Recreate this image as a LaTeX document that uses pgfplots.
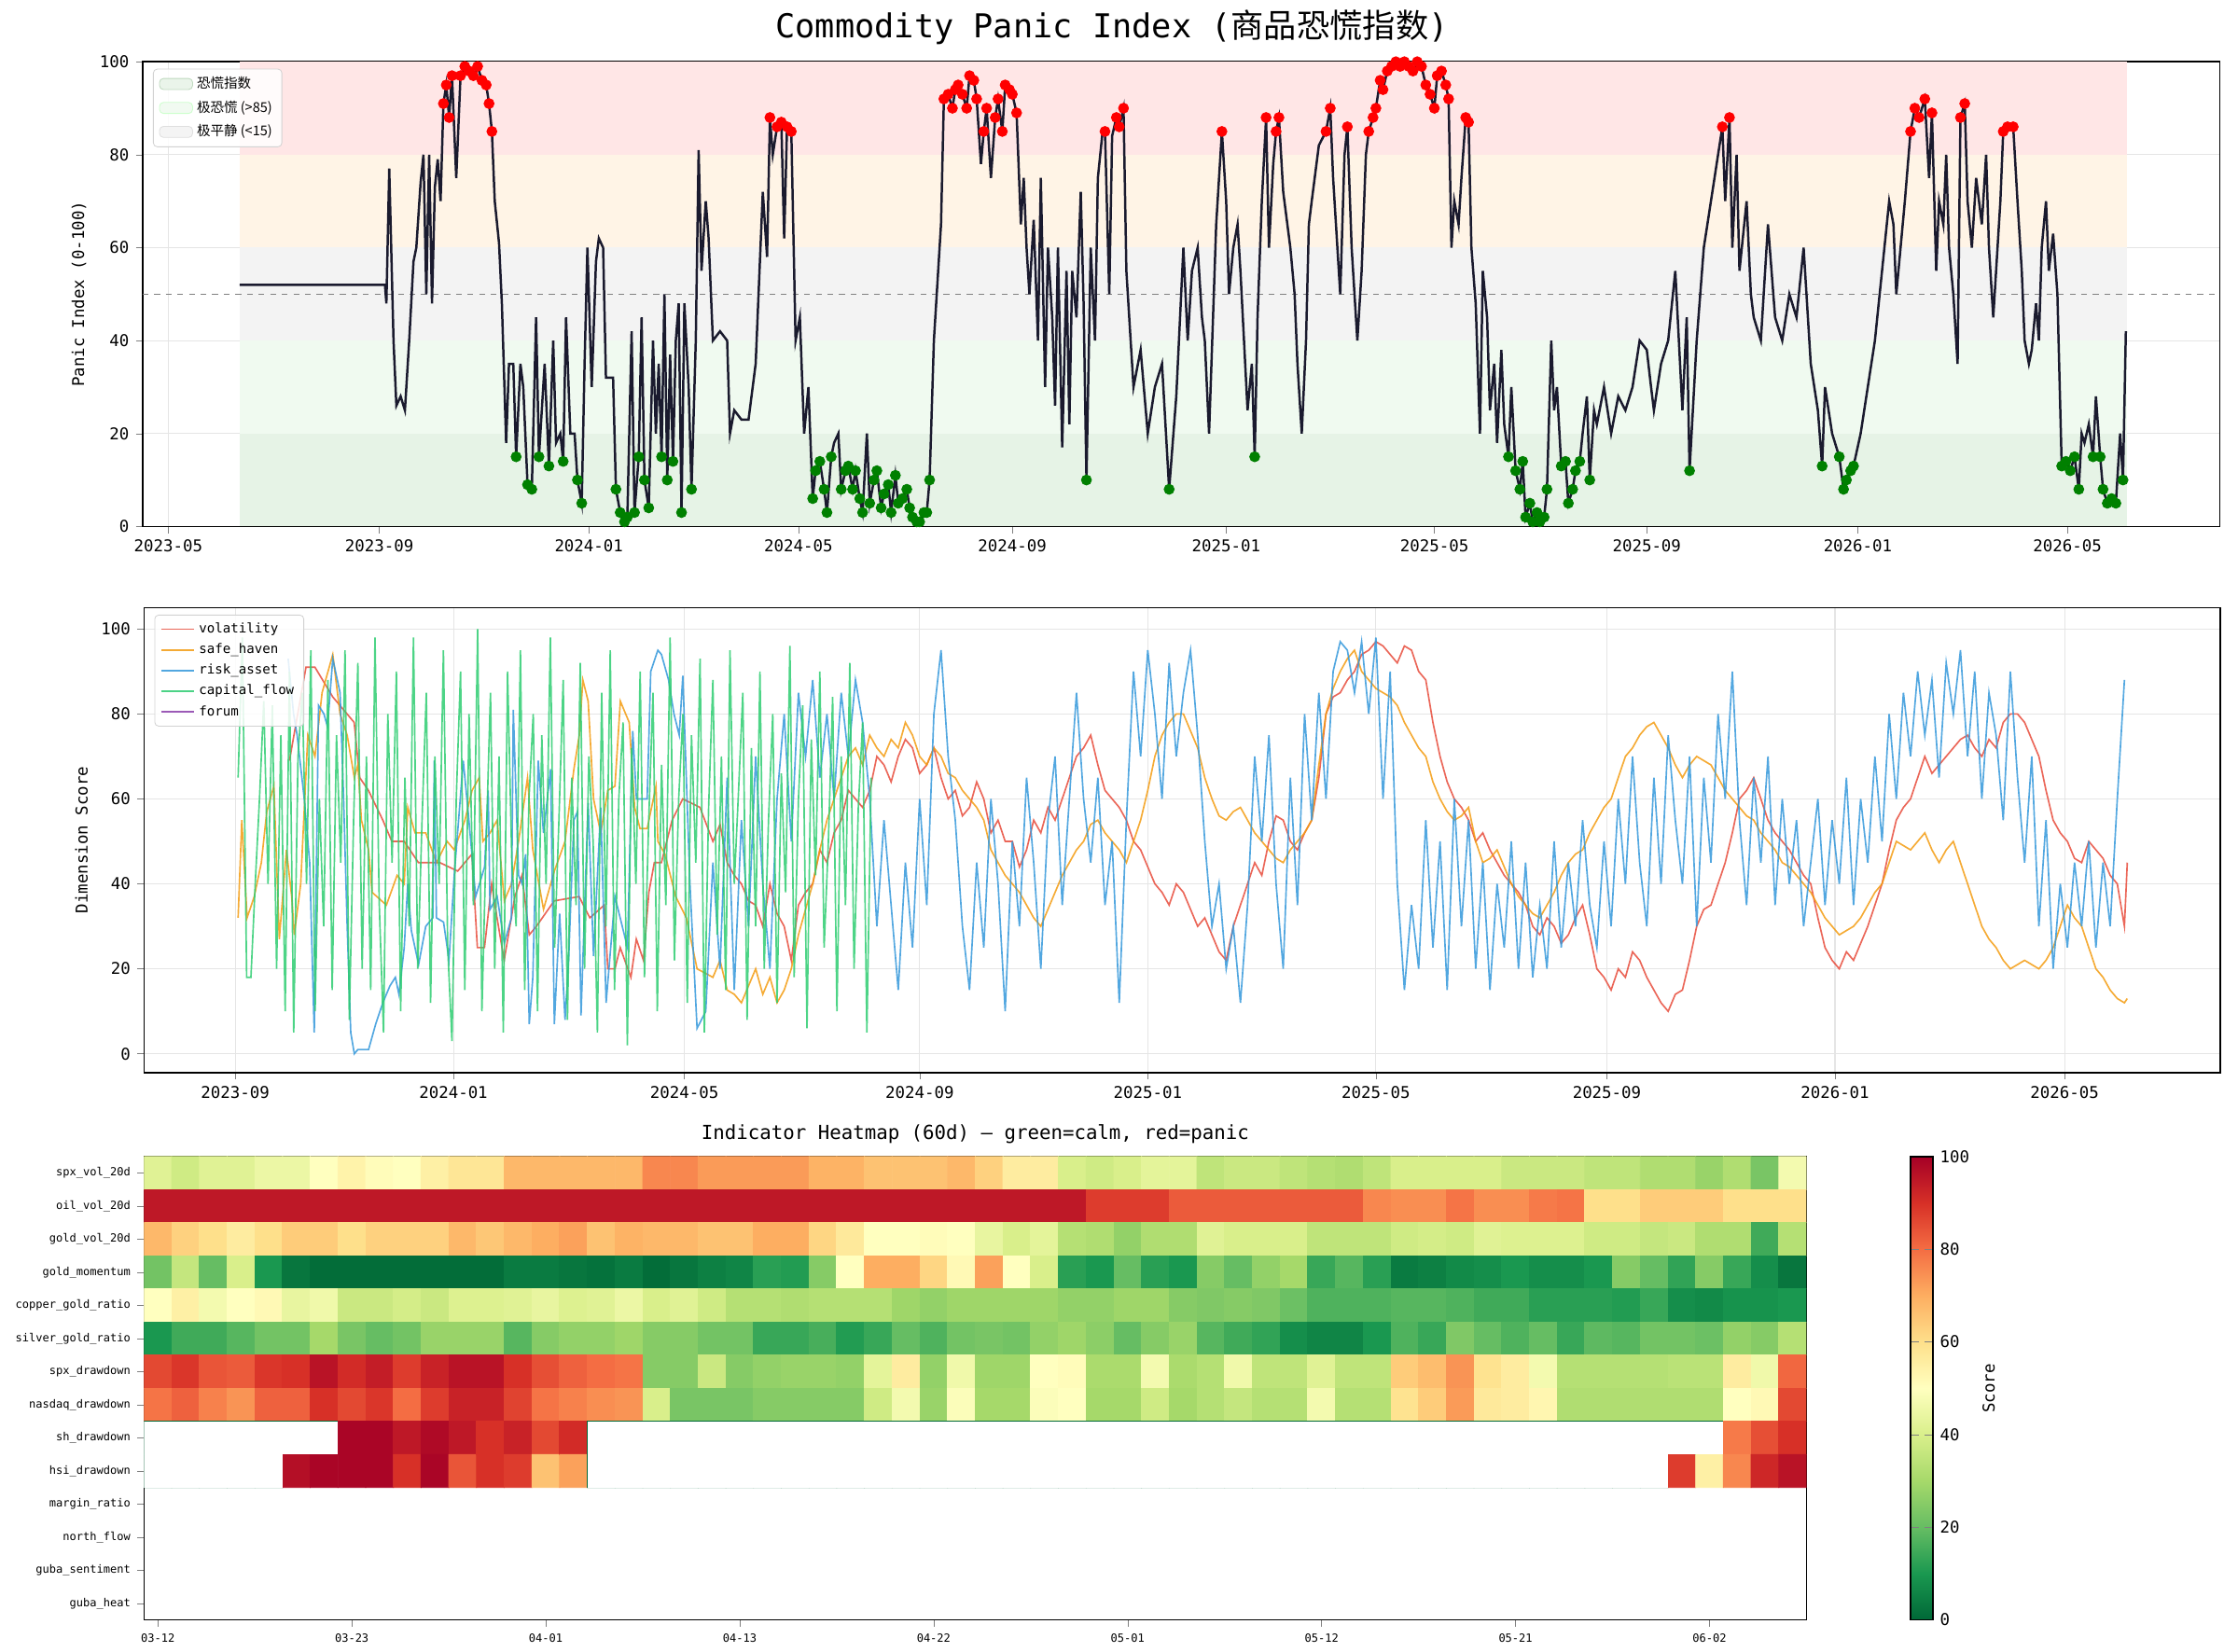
\documentclass[border=0pt]{standalone}
\usepackage{pgfplots}
\pgfplotsset{compat=1.18}
\usepackage{pgfplotstable}
\usepackage{fontspec}
\setmainfont{DejaVu Sans Mono}
\newfontfamily\cjk{Noto Sans CJK SC}
\definecolor{navy}{HTML}{1A1A2E}
\definecolor{cvol}{HTML}{E74C3C}
\definecolor{csafe}{HTML}{F39C12}
\definecolor{crisk}{HTML}{3498DB}
\definecolor{cflow}{HTML}{2ECC71}
\definecolor{cforum}{HTML}{9B59B6}
\definecolor{bred}{HTML}{FFE6E6}
\definecolor{bora}{HTML}{FFF4E6}
\definecolor{bgray}{HTML}{F3F3F3}
\definecolor{bgl}{HTML}{F0FAF0}
\definecolor{bg}{HTML}{E6F3E6}
\pgfplotsset{colormap={rdylgnr}{rgb255(0)=(0,104,55) rgb255(1)=(26,152,80) rgb255(2)=(102,189,99) rgb255(3)=(166,217,106) rgb255(4)=(217,239,139) rgb255(5)=(255,255,191) rgb255(6)=(254,224,139) rgb255(7)=(253,174,97) rgb255(8)=(244,109,67) rgb255(9)=(215,48,39) rgb255(10)=(165,0,38)}}
\pgfplotsset{
  base/.style={scale only axis, anchor=south west, tick align=outside, xtick pos=bottom, ytick pos=left,
    axis line style={line width=0.8pt}, major tick length=3.5pt,
    tick label style={font=\fontsize{8.4}{10}\selectfont},
    label style={font=\fontsize{8.4}{10}\selectfont},
    /pgf/number format/assume math mode=true},
}
\pgfplotstableread{
x y
168 52
270 52
271 48
273 77
276 40
278 26
281 28
284 25
287 40
290 57
292 60
295 74
297 80
299 50
301 80
303 48
305 73
307 79
309 70
311 91
313 95
315 88
317 97
320 75
323 97
326 99
329 98
332 97
335 99
338 96
341 95
343 91
345 85
347 70
350 61
352 48
355 18
357 35
360 35
362 15
365 35
367 30
370 9
373 8
376 45
378 15
382 35
385 13
388 40
390 18
393 20
395 14
397 45
400 20
403 20
405 10
408 5
410 35
412 60
415 30
418 57
420 62
423 60
425 32
430 32
432 8
435 3
438 1
440 2
443 42
445 3
448 15
450 45
452 10
455 4
458 40
460 20
462 35
464 15
466 50
468 10
470 37
472 14
474 40
476 48
478 3
480 48
483 30
485 8
488 40
490 81
492 55
495 70
497 62
500 40
505 42
510 40
512 20
515 25
520 23
525 23
530 35
535 72
538 58
540 88
542 80
545 86
548 87
550 62
552 86
555 85
558 40
561 45
564 20
567 30
570 6
572 12
575 14
578 8
580 3
583 15
585 18
588 20
590 8
593 12
595 13
598 8
600 12
603 6
605 3
608 20
610 5
613 10
615 12
618 4
620 7
623 9
625 3
628 11
630 5
633 6
636 8
638 4
640 2
643 1
645 1
648 3
650 3
652 10
655 40
657 50
660 65
662 92
665 93
668 90
670 94
672 95
675 93
678 90
680 97
683 96
685 92
688 78
690 85
692 90
695 75
698 88
700 92
703 85
705 95
708 94
710 93
713 89
716 65
718 75
720 60
722 50
725 66
728 40
730 75
733 30
735 60
738 45
740 26
742 60
745 17
748 55
750 22
752 55
755 45
758 72
760 48
762 10
765 60
768 40
770 75
773 84
775 85
778 50
780 84
783 88
785 86
788 90
790 55
793 40
795 30
800 38
805 20
810 30
815 35
820 8
825 28
830 60
833 40
836 55
840 60
843 45
845 40
848 20
850 38
853 65
857 85
860 70
862 50
865 60
868 65
870 55
875 25
878 35
880 15
882 45
885 70
888 88
890 60
893 78
895 85
897 88
900 72
905 60
908 50
910 35
913 20
916 40
918 65
920 70
925 82
930 85
933 90
935 75
940 50
943 80
945 86
948 60
950 50
952 40
955 55
958 80
960 85
963 88
965 90
968 96
970 94
973 98
976 99
979 100
982 99
985 100
988 99
991 98
994 100
997 99
1000 95
1003 93
1006 90
1008 97
1011 98
1014 95
1016 92
1018 60
1020 70
1023 65
1025 75
1028 88
1030 87
1032 60
1035 48
1038 20
1040 55
1043 45
1045 25
1048 35
1050 18
1053 38
1055 22
1058 15
1060 30
1063 12
1066 8
1068 14
1070 2
1073 5
1075 1
1078 3
1080 1
1083 2
1085 8
1088 40
1090 25
1092 30
1095 13
1098 14
1100 5
1103 8
1105 12
1108 14
1110 20
1113 28
1115 10
1118 25
1120 22
1125 30
1130 20
1135 28
1140 25
1145 30
1150 40
1155 38
1158 30
1160 25
1165 35
1170 40
1175 55
1180 25
1183 45
1185 12
1190 40
1195 60
1200 70
1205 80
1208 86
1210 70
1213 88
1215 60
1218 80
1220 55
1225 70
1228 50
1230 45
1235 40
1240 65
1245 45
1250 40
1255 50
1260 45
1265 60
1270 35
1275 25
1278 13
1280 30
1285 20
1290 15
1293 8
1295 10
1298 12
1300 13
1305 20
1310 30
1315 40
1320 55
1325 70
1328 65
1330 50
1333 60
1336 70
1340 85
1343 90
1346 88
1350 92
1353 75
1355 89
1358 55
1360 70
1363 65
1365 80
1367 60
1370 50
1373 35
1375 88
1378 91
1380 70
1383 60
1386 75
1390 65
1393 80
1395 60
1398 45
1400 55
1403 70
1405 85
1408 86
1412 86
1415 70
1418 55
1420 40
1423 35
1425 38
1428 48
1430 40
1432 60
1435 70
1437 55
1440 63
1443 50
1446 13
1449 14
1452 12
1455 15
1458 8
1460 20
1462 18
1465 22
1468 15
1470 28
1473 15
1475 8
1478 5
1481 6
1484 5
1487 20
1489 10
1491 42
}\panic
\pgfplotstableread{
x y
203 69
214.6 91
220.9 91
233.4 84
243.4 80
248.4 78
252.3 65
258.4 62
268.5 55
274.8 50
283.5 50
293.5 45
308.5 45
321 43
331 47
334.8 25
339.8 25
344.8 40
348.6 32
353.6 22
361.1 37
366.1 42
371.2 28
376.2 30
388.7 36
406.2 37
413.7 32
423.8 35
426.3 20
431.3 20
435 25
442.5 18
446.3 27
451.3 22
455.1 38
458.9 45
463.9 45
471.4 55
478.9 60
490.9 58
500 50
505 54
510 45
515 42
520 40
525 36
530 35
535 30
540 40
545 33
550 30
555 22
560 35
565 38
570 40
575 48
580 45
585 52
590 55
595 62
600 60
605 58
610 62
615 70
620 68
625 64
630 70
635 74
640 72
645 66
650 68
655 72
660 65
665 60
670 62
675 56
680 58
685 64
690 60
695 52
700 55
705 50
710 50
715 44
720 48
725 55
730 52
735 58
740 55
745 60
750 65
755 70
760 72
765 75
770 68
775 62
780 60
785 58
790 55
795 50
800 48
805 44
810 40
815 38
820 35
825 40
830 38
835 34
840 30
845 32
850 28
855 24
860 22
865 30
870 35
875 40
880 45
885 42
890 50
895 56
900 55
905 50
910 48
915 52
920 55
925 65
930 80
935 84
940 85
945 88
950 90
955 94
960 95
965 97
970 96
975 94
980 92
985 96
990 95
995 90
1000 88
1005 78
1010 70
1015 64
1020 60
1025 58
1030 55
1035 50
1040 52
1045 48
1050 45
1055 42
1060 40
1065 38
1070 35
1075 30
1080 28
1085 32
1090 30
1095 26
1100 28
1105 32
1110 35
1115 28
1120 20
1125 18
1130 15
1135 20
1140 18
1145 24
1150 22
1155 18
1160 15
1165 12
1170 10
1175 14
1180 15
1185 22
1190 30
1195 34
1200 35
1205 40
1210 45
1215 52
1220 60
1225 62
1230 65
1235 60
1240 55
1245 52
1250 50
1255 48
1260 45
1265 42
1270 40
1275 32
1280 25
1285 22
1290 20
1295 24
1300 22
1305 26
1310 30
1315 35
1320 40
1325 48
1330 55
1335 58
1340 60
1345 65
1350 70
1355 66
1360 68
1365 70
1370 72
1375 74
1380 75
1385 72
1390 70
1395 74
1400 72
1405 78
1410 80
1415 80
1420 78
1425 74
1430 70
1435 62
1440 55
1445 52
1450 50
1455 46
1460 45
1465 50
1470 48
1475 46
1480 42
1485 40
1490 30
1492 45
}\vol
\pgfplotstableread{
x y
167.0 32
169.6 55
173.3 32
178.3 37
183.3 45
187.1 57
192.1 63
195.9 27
200.9 48
204.6 37
206.4 28
210.9 40
215.9 75
220.9 70
225.9 85
233.4 94
238.5 80
243.5 75
248.5 65
251.0 68
253.5 55
258.5 48
261.0 38
271.0 35
278.5 42
283.5 40
286.0 58
291.1 52
298.6 52
306.1 45
313.6 50
318.6 48
326.1 55
331.1 62
336.1 65
338.7 50
343.7 52
348.7 55
353.7 36
358.7 40
363.7 50
370.0 65
373.7 48
381.2 34
388.8 43
396.3 50
402.5 67
406.3 75
408.8 88
412.5 83
416.3 60
421.3 52
426.3 62
431.3 63
435.1 83
441.3 78
445.1 58
448.9 53
453.9 53
460.1 63
461.4 50
466.4 47
473.9 37
481.4 32
488.9 20
500 18
505 22
510 15
515 14
520 12
525 16
530 20
535 14
540 18
545 12
550 15
555 20
560 28
565 34
570 40
575 48
580 55
585 60
590 65
595 70
600 72
605 68
610 75
615 72
620 70
625 74
630 72
635 78
640 75
645 70
650 68
655 72
660 70
665 66
670 65
675 62
680 60
685 58
690 55
695 48
700 45
705 42
710 40
715 38
720 35
725 32
730 30
735 34
740 38
745 42
750 45
755 48
760 50
765 54
770 55
775 52
780 50
785 48
790 45
795 50
800 55
805 62
810 70
815 75
820 78
825 80
830 80
835 76
840 72
845 65
850 60
855 56
860 55
865 57
870 58
875 55
880 52
885 50
890 48
895 46
900 45
905 48
910 50
915 52
920 55
925 68
930 80
935 86
940 90
945 93
950 95
955 90
960 88
965 86
970 85
975 84
980 82
985 78
990 75
995 72
1000 70
1005 64
1010 60
1015 57
1020 55
1025 56
1030 58
1035 50
1040 45
1045 46
1050 48
1055 44
1060 40
1065 37
1070 35
1075 33
1080 32
1085 35
1090 38
1095 42
1100 45
1105 47
1110 48
1115 52
1120 55
1125 58
1130 60
1135 65
1140 70
1145 72
1150 75
1155 77
1160 78
1165 75
1170 72
1175 68
1180 65
1185 68
1190 70
1195 69
1200 68
1205 65
1210 62
1215 60
1220 58
1225 56
1230 55
1235 52
1240 50
1245 48
1250 45
1255 44
1260 42
1265 40
1270 38
1275 35
1280 32
1285 30
1290 28
1295 29
1300 30
1305 32
1310 35
1315 38
1320 40
1325 45
1330 50
1335 49
1340 48
1345 50
1350 52
1355 48
1360 45
1365 48
1370 50
1375 45
1380 40
1385 35
1390 30
1395 27
1400 25
1405 22
1410 20
1415 21
1420 22
1425 21
1430 20
1435 22
1440 25
1445 30
1450 35
1455 32
1460 30
1465 25
1470 20
1475 18
1480 15
1485 13
1490 12
1492 13
}\safe
\pgfplotstableread{
x y
202.1 93
205.9 80
208.4 75
213.4 60
217.2 45
220.4 5
223.4 82
227.2 80
229.7 77
233.4 93
238.5 85
241.0 60
243.5 30
246.0 5
248.5 0
251.0 1
254.7 1
258.5 1
263.5 7
268.5 12
273.5 16
277.3 18
279.8 14
283.5 25
286.0 40
288.5 29
293.6 21
298.6 30
303.6 32
304.6 69
306.1 32
311.1 31
314.9 22
318.6 42
324.9 69
328.6 56
333.6 37
339.9 44
342.4 62
343.7 34
348.7 37
353.7 26
358.7 32
360.0 81
363.7 42
366.2 40
368.7 47
371.2 7
373.7 18
377.5 69
381.2 52
386.2 67
388.8 7
392.5 33
396.3 8
398.8 22
402.5 55
405.0 57
407.5 9
412.5 59
416.3 23
421.3 58
425.1 12
431.3 37
440.1 25
443.8 76
446.4 60
453.9 60
456.4 90
461.4 95
463.9 94
468.9 88
472.7 80
476.4 75
478.9 89
483.9 40
488.9 6
495 10
500 45
505 20
510 65
515 15
520 55
525 30
530 70
535 40
540 20
545 60
550 80
555 50
560 85
565 70
570 88
575 65
580 80
585 60
590 85
595 70
600 88
605 78
610 60
615 30
620 55
625 35
630 15
635 45
640 25
645 60
650 35
655 80
660 95
665 70
670 55
675 30
680 15
685 45
690 25
695 60
700 40
705 10
710 50
715 30
720 65
725 45
730 20
735 55
740 70
745 35
750 60
755 85
760 60
765 45
770 65
775 35
780 50
785 12
790 55
795 90
800 70
805 95
810 80
815 60
820 92
825 70
830 85
835 95
840 75
845 50
850 30
855 40
860 20
865 30
870 12
875 35
880 70
885 50
890 75
895 40
900 20
905 65
910 35
915 80
920 55
925 85
930 60
935 90
940 97
945 95
950 85
955 97
960 80
965 98
970 60
975 90
980 40
985 15
990 35
995 20
1000 55
1005 25
1010 50
1015 15
1020 60
1025 30
1030 55
1035 20
1040 45
1045 15
1050 40
1055 25
1060 50
1065 20
1070 45
1075 18
1080 35
1085 20
1090 50
1095 25
1100 45
1105 30
1110 55
1115 35
1120 25
1125 50
1130 30
1135 60
1140 40
1145 70
1150 45
1155 30
1160 65
1165 40
1170 75
1175 55
1180 40
1185 70
1190 30
1195 65
1200 45
1205 80
1210 60
1215 90
1220 55
1225 35
1230 65
1235 45
1240 70
1245 35
1250 60
1255 40
1260 55
1265 30
1270 45
1275 60
1280 35
1285 55
1290 40
1295 65
1300 35
1305 60
1310 45
1315 70
1320 50
1325 80
1330 60
1335 85
1340 70
1345 90
1350 75
1355 88
1360 65
1365 92
1370 80
1375 95
1380 70
1385 90
1390 60
1395 85
1400 75
1405 55
1410 90
1415 65
1420 45
1425 70
1430 30
1435 55
1440 20
1445 40
1450 25
1455 45
1460 30
1465 50
1470 25
1475 45
1480 30
1485 60
1490 88
}\risk
\pgfplotstableread[row sep=\\]{
y\\
65\\98\\18\\18\\40\\60\\83\\40\\82\\20\\75\\10\\90\\5\\70\\85\\40\\95\\10\\60\\30\\88\\15\\75\\45\\95\\8\\55\\92\\20\\
70\\15\\98\\35\\5\\80\\45\\90\\10\\65\\30\\98\\20\\55\\85\\12\\70\\40\\95\\25\\3\\60\\90\\15\\80\\35\\100\\10\\50\\85\\
20\\70\\5\\90\\45\\30\\95\\15\\60\\80\\10\\75\\40\\98\\25\\55\\88\\8\\65\\35\\92\\20\\70\\50\\5\\85\\30\\95\\15\\60\\
78\\2\\72\\40\\90\\18\\55\\85\\10\\68\\35\\98\\22\\60\\80\\12\\75\\45\\93\\5\\58\\88\\28\\70\\15\\95\\40\\62\\85\\8\\
72\\30\\90\\20\\55\\80\\12\\66\\38\\96\\18\\60\\82\\6\\74\\42\\90\\25\\50\\84\\10\\70\\35\\92\\20\\58\\78\\5\\65\\
}\flow
\pgfplotstableread[row sep=\\]{
c\\
42\\38\\42\\42\\45\\45\\50\\54\\51\\50\\55\\58\\58\\68\\68\\68\\68\\68\\76\\76\\73\\73\\73\\73\\69\\69\\66\\66\\66\\68\\63\\56\\56\\40\\38\\40\\43\\43\\35\\37\\37\\35\\33\\32\\35\\40\\40\\40\\40\\37\\37\\37\\35\\35\\32\\32\\28\\32\\23\\47\\
95\\95\\95\\95\\95\\95\\95\\95\\95\\95\\95\\95\\95\\95\\95\\95\\95\\95\\95\\95\\95\\95\\95\\95\\95\\95\\95\\95\\95\\95\\95\\95\\95\\95\\88\\88\\88\\83\\83\\83\\83\\83\\83\\83\\76\\75\\75\\79\\75\\75\\78\\79\\60\\60\\64\\64\\64\\60\\60\\60\\
68\\63\\60\\56\\60\\64\\64\\60\\63\\63\\63\\68\\65\\68\\70\\72\\66\\69\\68\\68\\66\\66\\70\\70\\62\\57\\50\\50\\51\\50\\44\\40\\43\\33\\32\\27\\32\\32\\42\\40\\40\\40\\35\\35\\35\\38\\39\\38\\42\\41\\41\\41\\38\\38\\36\\37\\32\\32\\15\\33\\
22\\36\\20\\40\\10\\3\\1\\1\\1\\1\\1\\1\\1\\4\\4\\3\\2\\4\\1\\3\\5\\6\\12\\11\\25\\50\\70\\70\\62\\52\\72\\50\\40\\12\\10\\20\\12\\10\\25\\20\\27\\30\\14\\18\\12\\4\\5\\7\\8\\10\\8\\8\\10\\25\\20\\13\\25\\14\\8\\3\\
50\\55\\47\\50\\52\\44\\46\\37\\37\\39\\37\\41\\41\\42\\44\\41\\42\\45\\40\\42\\38\\33\\33\\32\\33\\33\\33\\29\\27\\29\\29\\29\\29\\27\\27\\29\\29\\25\\24\\25\\24\\21\\17\\17\\17\\18\\18\\17\\15\\15\\12\\12\\12\\11\\14\\8\\7\\9\\9\\10\\
10\\15\\15\\18\\22\\22\\30\\23\\20\\22\\28\\28\\28\\18\\25\\27\\27\\29\\25\\25\\22\\22\\14\\14\\16\\11\\14\\20\\17\\22\\23\\22\\27\\29\\26\\20\\25\\28\\18\\15\\13\\8\\6\\6\\10\\17\\14\\24\\20\\17\\20\\14\\19\\18\\22\\22\\21\\27\\25\\33\\
86\\89\\84\\83\\89\\90\\96\\91\\94\\88\\93\\96\\96\\90\\85\\82\\80\\79\\25\\25\\37\\25\\27\\28\\28\\27\\43\\56\\27\\46\\29\\29\\50\\51\\31\\31\\47\\31\\33\\46\\35\\35\\42\\35\\35\\64\\67\\74\\59\\56\\47\\33\\33\\33\\33\\34\\34\\56\\46\\81\\
79\\82\\77\\74\\82\\82\\90\\86\\89\\80\\88\\93\\93\\87\\79\\77\\75\\74\\40\\23\\23\\23\\25\\25\\25\\25\\38\\47\\28\\49\\30\\30\\49\\50\\30\\30\\38\\30\\33\\36\\33\\33\\47\\33\\33\\59\\64\\73\\57\\56\\53\\32\\32\\32\\32\\32\\32\\50\\52\\86\\
0\\0\\0\\0\\0\\0\\0\\99\\99\\95\\98\\95\\90\\93\\86\\91\\0\\0\\0\\0\\0\\0\\0\\0\\0\\0\\0\\0\\0\\0\\0\\0\\0\\0\\0\\0\\0\\0\\0\\0\\0\\0\\0\\0\\0\\0\\0\\0\\0\\0\\0\\0\\0\\0\\0\\0\\0\\78\\85\\90\\
0\\0\\0\\0\\0\\97\\99\\99\\99\\90\\99\\84\\90\\88\\66\\72\\0\\0\\0\\0\\0\\0\\0\\0\\0\\0\\0\\0\\0\\0\\0\\0\\0\\0\\0\\0\\0\\0\\0\\0\\0\\0\\0\\0\\0\\0\\0\\0\\0\\0\\0\\0\\0\\0\\0\\88\\55\\76\\92\\96\\
}\heat
\begin{document}
\begin{tikzpicture}
\path (0,0) rectangle (40.4cm,30.0cm);
\node[font=\fontsize{17}{20}\selectfont] at (20.2cm,29.5cm) {Commodity Panic Index ({\cjk 商品恐慌指数})};
% ---------- top
\begin{axis}[base, at={(2.590cm,20.435cm)}, width=37.736cm, height=8.443cm,
  xmin=100, xmax=1557, ymin=0, ymax=100,
  xtick={118,266,413,560,710,860,1006,1155,1303,1450},
  xticklabels={2023-05,2023-09,2024-01,2024-05,2024-09,2025-01,2025-05,2025-09,2026-01,2026-05},
  ytick={0,20,...,100}, ylabel={Panic Index (0-100)},
  grid=major, grid style={gray!20, line width=0.5pt},
  legend style={at={(0.005,0.985)}, anchor=north west, font=\fontsize{7}{8.5}\selectfont, draw=gray!35, rounded corners=2pt, fill=white, fill opacity=0.85, text opacity=1, row sep=1pt},
  legend cell align=left]
\addplot[fill=bg, draw=none, forget plot] coordinates {(168,0)(1492,0)(1492,20)(168,20)};
\addplot[fill=bgl, draw=none, forget plot] coordinates {(168,20)(1492,20)(1492,40)(168,40)};
\addplot[fill=bgray, draw=none, forget plot] coordinates {(168,40)(1492,40)(1492,60)(168,60)};
\addplot[fill=bora, draw=none, forget plot] coordinates {(168,60)(1492,60)(1492,80)(168,80)};
\addplot[fill=bred, draw=none, forget plot] coordinates {(168,80)(1492,80)(1492,100)(168,100)};
\addplot[gray, dashed, line width=0.5pt, forget plot] coordinates {(100,50)(1557,50)};
\addplot[navy, line width=1.2pt, forget plot] table[x=x,y=y] {\panic};
\addplot[only marks, mark=*, red, mark size=2.6pt, restrict y to domain=85:100, forget plot] table[x=x,y=y] {\panic};
\addplot[only marks, mark=*, green!50!black, mark size=2.6pt, restrict y to domain=0:15, forget plot] table[x=x,y=y] {\panic};
\addlegendimage{area legend, fill=bg, draw=green!40!black!25}
\addlegendentry{{\cjk 恐慌指数}}
\addlegendimage{area legend, fill=bgl, draw=green!20}
\addlegendentry{{\cjk 极恐慌 (>85)}}
\addlegendimage{area legend, fill=bgray, draw=gray!25}
\addlegendentry{{\cjk 极平静 (<15)}}
\end{axis}
% ---------- middle
\begin{axis}[base, at={(2.616cm,10.516cm)}, width=37.71cm, height=8.443cm,
  xmin=101, xmax=1557, ymin=-4.4, ymax=105,
  xtick={165,318,480,645,805,965,1127,1287,1448},
  xticklabels={2023-09,2024-01,2024-05,2024-09,2025-01,2025-05,2025-09,2026-01,2026-05},
  ytick={0,20,...,100}, ylabel={Dimension Score},
  grid=major, grid style={gray!20, line width=0.5pt},
  legend style={at={(0.005,0.985)}, anchor=north west, font=\fontsize{6.8}{8}\selectfont, draw=gray!35, rounded corners=2pt, fill=white, fill opacity=0.85, text opacity=1},
  legend cell align=left]
\addplot[cvol, line width=0.8pt, opacity=0.85] table[x=x,y=y] {\vol};
\addlegendentry{volatility}
\addplot[csafe, line width=0.8pt, opacity=0.85] table[x=x,y=y] {\safe};
\addlegendentry{safe\_haven}
\addplot[crisk, line width=0.8pt, opacity=0.85] table[x=x,y=y] {\risk};
\addlegendentry{risk\_asset}
\addplot[cflow, line width=0.8pt, opacity=0.85] table[x index=0, x expr={167+3*\coordindex}, y index=0] {\flow};
\addlegendentry{capital\_flow}
\addlegendimage{cforum, line width=0.8pt}
\addlegendentry{forum}
\end{axis}
% ---------- heatmap
\begin{axis}[base, at={(2.616cm,0.570cm)}, width=30.2cm, height=8.418cm,
  xmin=-0.5, xmax=59.5, ymin=-0.5, ymax=13.5, y dir=reverse, enlargelimits=false,
  colormap name=rdylgnr, point meta min=0, point meta max=100,
  xtick={0,7,...,56}, xticklabels={03-12,03-23,04-01,04-13,04-22,05-01,05-12,05-21,06-02},
  xticklabel style={font=\fontsize{5.8}{7}\selectfont},
  ytick={0,...,13},
  yticklabels={spx\_vol\_20d,oil\_vol\_20d,gold\_vol\_20d,gold\_momentum,copper\_gold\_ratio,silver\_gold\_ratio,spx\_drawdown,nasdaq\_drawdown,sh\_drawdown,hsi\_drawdown,margin\_ratio,north\_flow,guba\_sentiment,guba\_heat},
  yticklabel style={font=\fontsize{5.8}{7}\selectfont},
  title={Indicator Heatmap (60d) — green=calm, red=panic},
  title style={font=\fontsize{10}{12}\selectfont, yshift=-3pt},
  colorbar,
  colorbar style={at={(1.0626,1)}, anchor=north west, width=0.41cm, ytick={0,20,...,100},
    ylabel={Score}, ylabel style={font=\fontsize{8.4}{10}\selectfont},
    yticklabel style={font=\fontsize{8.4}{10}\selectfont, /pgf/number format/assume math mode=true},
    axis line style={line width=0.8pt}}]
\addplot[matrix plot*, mesh/cols=60, mesh/rows=10, point meta=explicit]
  table[x index=0, y index=0, x expr={\coordindex-60*floor((\coordindex+0.5)/60)}, y expr={floor((\coordindex+0.5)/60)}, meta index=0] {\heat};
\addplot[fill=white, draw=none] coordinates {(-0.5,7.5)(6.5,7.5)(6.5,8.5)(-0.5,8.5)};
\addplot[fill=white, draw=none] coordinates {(15.5,7.5)(56.5,7.5)(56.5,8.5)(15.5,8.5)};
\addplot[fill=white, draw=none] coordinates {(-0.5,8.5)(4.5,8.5)(4.5,9.52)(-0.5,9.52)};
\addplot[fill=white, draw=none] coordinates {(15.5,8.5)(54.5,8.5)(54.5,9.52)(15.5,9.52)};
\end{axis}
\end{tikzpicture}
\end{document}
